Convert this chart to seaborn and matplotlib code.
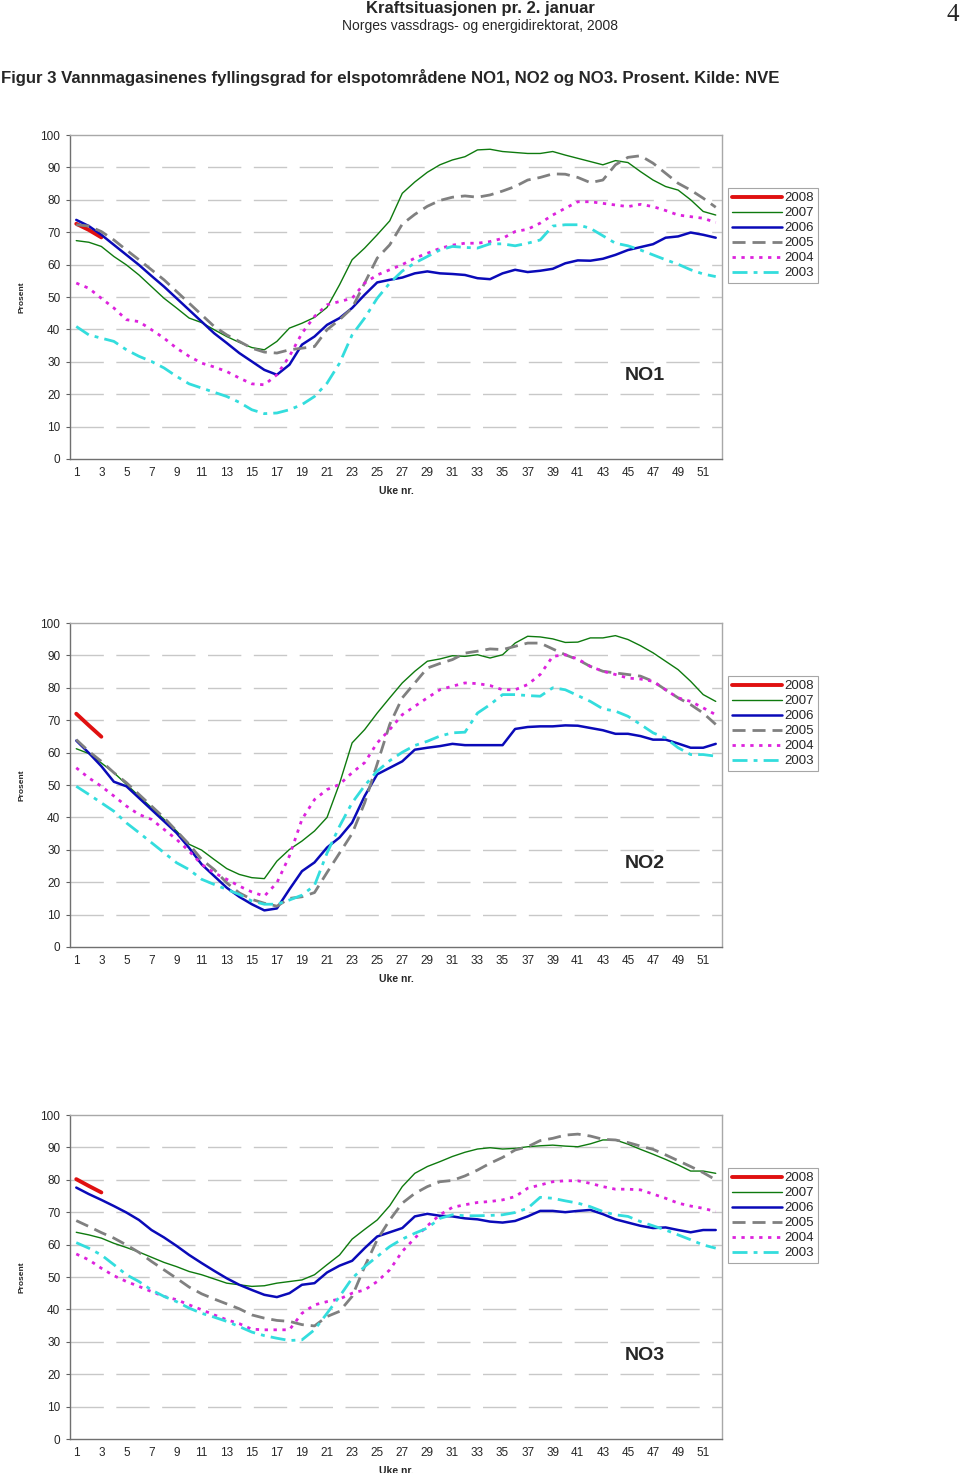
import numpy as np
import matplotlib
matplotlib.use("Agg")
import matplotlib.pyplot as plt
import seaborn as sns

sns.set_style("white")
plt.rcParams['font.family'] = ['Liberation Sans', 'DejaVu Sans']

weeks = np.arange(1, 53)
years = ['2008', '2007', '2006', '2005', '2004', '2003']

# NO1
no1_2008 = [72.6, 70.7, 68.4]
no1_2007 = [67.4, 66.9, 65.6, 62.5, 59.9, 56.8, 53.2, 49.6, 46.6, 43.5,
            42.1, 39.9, 37.8, 36.0, 34.4, 33.7, 36.3, 40.4, 41.9, 43.7,
            46.8, 53.8, 61.5, 65.1, 69.2, 73.5, 82.0, 85.5, 88.5, 90.8,
            92.3, 93.3, 95.4, 95.6, 94.9, 94.6, 94.3, 94.3, 94.9, 93.8,
            92.8, 91.8, 90.8, 92.1, 91.5, 88.7, 86.1, 84.1, 83.0, 80.0,
            76.4, 75.3]
no1_2006 = [73.8, 71.9, 69.2, 66.1, 63.0, 59.9, 56.5, 53.2, 49.6, 46.0,
            42.4, 38.8, 35.8, 32.7, 30.1, 27.5, 26.0, 29.1, 35.3, 37.8,
            41.4, 43.5, 46.6, 50.7, 54.5, 55.3, 56.0, 57.3, 57.9, 57.3,
            57.1, 56.8, 55.8, 55.5, 57.3, 58.4, 57.7, 58.1, 58.7, 60.4,
            61.3, 61.2, 61.8, 63.0, 64.5, 65.4, 66.3, 68.3, 68.7, 69.9,
            69.2, 68.3]
no1_2005 = [72.3, 71.9, 70.2, 67.6, 64.5, 61.5, 58.4, 55.3, 51.7, 48.1,
            44.5, 40.9, 38.3, 36.3, 34.2, 33.0, 32.7, 33.7, 34.2, 34.7,
            39.9, 43.0, 46.6, 54.3, 62.0, 66.1, 72.5, 75.5, 78.0, 79.8,
            80.8, 81.2, 80.8, 81.5, 82.7, 84.1, 86.1, 86.9, 88.0, 87.9,
            86.9, 85.3, 86.1, 90.8, 93.1, 93.6, 91.3, 88.2, 85.1, 83.0,
            80.5, 77.7]
no1_2004 = [54.3, 52.7, 49.6, 46.6, 43.0, 42.4, 39.9, 37.3, 34.2, 31.7,
            29.6, 28.4, 27.0, 25.0, 23.2, 22.9, 26.0, 31.7, 38.8, 44.0,
            47.6, 48.6, 49.6, 54.3, 56.8, 58.4, 60.0, 62.0, 63.5, 65.0,
            66.0, 66.6, 66.6, 67.1, 68.1, 70.2, 70.9, 72.8, 75.3, 77.4,
            79.4, 79.4, 78.9, 78.4, 77.9, 78.6, 77.9, 76.7, 75.3, 74.8,
            74.3, 73.0]
no1_2003 = [40.9, 38.3, 37.3, 36.3, 33.7, 31.7, 30.1, 28.1, 25.5, 23.2,
            21.9, 20.6, 19.3, 17.5, 15.2, 14.0, 14.2, 15.2, 16.8, 19.3,
            23.4, 29.6, 38.3, 43.5, 49.6, 54.3, 58.0, 60.5, 62.5, 64.5,
            65.6, 65.3, 65.1, 66.4, 66.4, 65.8, 66.6, 67.6, 71.9, 72.3,
            72.3, 71.2, 68.9, 66.6, 65.8, 64.5, 63.0, 61.5, 60.1, 58.4,
            57.1, 56.3]

# NO2
no2_2008 = [72.0, 68.4, 64.9]
no2_2007 = [61.2, 59.7, 56.8, 53.8, 50.2, 46.6, 43.0, 39.4, 35.8, 31.7,
            29.9, 27.0, 24.2, 22.4, 21.4, 21.1, 26.5, 30.1, 32.7, 35.8,
            40.0, 50.5, 63.0, 67.1, 72.2, 76.9, 81.5, 85.1, 88.2, 88.9,
            89.9, 89.7, 90.2, 89.2, 90.2, 93.8, 95.9, 95.7, 95.1, 94.0,
            94.1, 95.4, 95.4, 96.1, 94.9, 93.0, 90.8, 88.2, 85.6, 82.0,
            77.9, 75.8]
no2_2006 = [63.7, 59.9, 55.8, 51.0, 49.6, 46.0, 42.4, 38.8, 35.2, 30.6,
            25.5, 21.9, 18.3, 15.5, 13.2, 11.3, 11.9, 17.8, 23.4, 26.1,
            30.7, 33.8, 38.4, 46.6, 53.3, 55.3, 57.3, 60.9, 61.5, 62.0,
            62.7, 62.3, 62.3, 62.3, 62.3, 67.3, 67.9, 68.1, 68.1, 68.4,
            68.3, 67.6, 66.9, 65.8, 65.8, 65.1, 64.0, 64.0, 62.8, 61.5,
            61.5, 62.7]
no2_2005 = [64.0, 60.4, 57.3, 53.8, 50.7, 47.1, 43.5, 39.9, 35.8, 31.7,
            27.0, 23.9, 19.8, 16.7, 14.7, 13.5, 12.6, 15.0, 15.5, 16.8,
            23.0, 29.0, 35.0, 44.5, 56.5, 68.7, 76.9, 81.5, 86.1, 87.5,
            88.7, 90.7, 91.3, 92.0, 91.8, 92.8, 93.8, 93.8, 92.0, 90.2,
            88.7, 86.6, 85.1, 84.6, 84.1, 83.6, 82.0, 79.4, 76.9, 74.8,
            72.2, 68.7]
no2_2004 = [55.3, 52.2, 49.6, 46.6, 43.5, 40.9, 39.4, 36.3, 33.2, 29.6,
            25.5, 22.9, 20.9, 18.8, 17.0, 15.7, 19.8, 28.1, 39.4, 45.5,
            48.6, 50.2, 53.8, 56.9, 63.0, 67.1, 71.7, 74.3, 76.9, 79.4,
            80.5, 81.5, 81.3, 80.7, 79.4, 79.4, 81.0, 84.1, 89.7, 90.2,
            88.9, 86.6, 85.1, 84.1, 83.0, 82.7, 82.0, 79.4, 76.9, 75.8,
            73.8, 71.7]
no2_2003 = [49.6, 47.1, 44.5, 41.9, 38.3, 35.3, 32.2, 29.1, 26.0, 23.9,
            20.9, 19.3, 17.8, 16.2, 14.2, 13.2, 13.2, 14.5, 16.0, 19.0,
            29.0, 37.3, 44.5, 49.8, 54.3, 57.5, 60.1, 62.2, 63.5, 65.1,
            66.1, 66.3, 72.2, 74.8, 77.9, 77.9, 77.6, 77.4, 80.0, 79.4,
            77.6, 75.8, 73.5, 72.8, 71.2, 68.7, 66.1, 64.5, 61.5, 59.4,
            59.4, 58.9]

# NO3
no3_2008 = [80.2, 78.1, 76.1]
no3_2007 = [63.8, 63.0, 62.0, 60.4, 59.1, 57.7, 56.1, 54.5, 53.2, 51.7,
            50.7, 49.4, 48.1, 47.6, 47.1, 47.3, 48.1, 48.6, 49.1, 50.7,
            53.8, 56.8, 61.7, 64.7, 67.6, 72.0, 77.9, 82.0, 84.1, 85.6,
            87.2, 88.5, 89.5, 89.9, 89.5, 89.7, 90.2, 90.5, 90.7, 90.4,
            90.2, 91.1, 92.3, 92.3, 91.0, 89.4, 87.9, 86.3, 84.6, 82.7,
            82.7, 82.0]
no3_2006 = [77.6, 75.6, 73.8, 71.9, 69.9, 67.6, 64.5, 62.2, 59.6, 56.8,
            54.3, 51.9, 49.6, 47.6, 46.0, 44.5, 43.8, 45.0, 47.6, 48.1,
            51.4, 53.5, 55.0, 58.9, 62.5, 63.8, 65.1, 68.7, 69.5, 68.9,
            68.7, 68.1, 67.8, 67.1, 66.8, 67.3, 68.7, 70.4, 70.4, 70.0,
            70.4, 70.7, 69.4, 67.8, 66.8, 65.8, 65.1, 65.3, 64.5, 63.8,
            64.5, 64.5]
no3_2005 = [67.4, 65.6, 63.7, 62.0, 59.9, 57.6, 54.8, 52.2, 49.6, 46.9,
            44.8, 43.2, 41.7, 40.2, 38.3, 37.3, 36.6, 36.3, 35.3, 34.9,
            37.8, 39.4, 44.0, 53.2, 61.5, 67.6, 72.8, 75.8, 77.9, 79.4,
            79.8, 81.2, 83.0, 85.1, 86.9, 89.2, 90.2, 92.1, 92.8, 93.8,
            94.1, 93.5, 92.5, 92.3, 91.5, 90.4, 89.4, 87.7, 85.9, 84.1,
            82.2, 80.0]
no3_2004 = [57.1, 55.3, 52.7, 50.4, 48.6, 47.1, 45.5, 44.0, 43.0, 41.4,
            39.9, 38.3, 36.8, 35.6, 33.9, 33.7, 33.7, 33.7, 38.8, 41.4,
            42.4, 43.2, 45.0, 46.0, 48.6, 52.2, 57.9, 62.0, 65.8, 69.2,
            71.5, 72.3, 73.0, 73.3, 73.8, 74.8, 77.4, 78.4, 79.4, 79.7,
            79.7, 78.9, 77.9, 77.1, 77.1, 76.9, 75.6, 74.3, 72.8, 71.9,
            71.2, 70.2]
no3_2003 = [60.6, 58.9, 56.8, 53.8, 50.7, 48.6, 46.0, 44.0, 42.4, 40.4,
            38.8, 37.6, 36.3, 34.7, 33.0, 31.9, 31.1, 30.4, 30.6, 33.7,
            38.8, 44.0, 49.6, 53.2, 56.3, 59.4, 61.7, 63.5, 65.1, 68.1,
            69.2, 68.9, 68.9, 69.0, 69.2, 69.9, 71.2, 74.6, 74.3, 73.5,
            72.8, 71.7, 70.2, 69.2, 68.7, 67.1, 65.8, 64.5, 63.0, 61.5,
            59.9, 58.9]

panels = [
    ('NO1', 135, [no1_2008, no1_2007, no1_2006, no1_2005, no1_2004, no1_2003]),
    ('NO2', 623, [no2_2008, no2_2007, no2_2006, no2_2005, no2_2004, no2_2003]),
    ('NO3', 1115, [no3_2008, no3_2007, no3_2006, no3_2005, no3_2004, no3_2003]),
]

line_kw = {
    '2008': dict(color='#e01010', lw=2.8, linestyle='-'),
    '2007': dict(color='#0e7a0e', lw=1.0, linestyle='-'),
    '2006': dict(color='#0a0ab8', lw=1.8, linestyle='-'),
    '2005': dict(color='#808080', lw=2.0, linestyle=(0, (4.7, 2.5))),
    '2004': dict(color='#dd22dd', lw=2.0, linestyle=(0, (1.2, 2.0))),
    '2003': dict(color='#33dddd', lw=2.0, linestyle=(0, (5.4, 2.2, 1.4, 2.2))),
}

W, H = 960, 1473
fig = plt.figure(figsize=(W / 100, H / 100), dpi=100)

fig.text(480 / W, 1 - 9 / H, 'Kraftsituasjonen pr. 2. januar', ha='center',
         va='center', fontsize=12, fontweight='bold')
fig.text(480 / W, 1 - 26 / H, 'Norges vassdrags- og energidirektorat, 2008',
         ha='center', va='center', fontsize=10)
fig.text(953 / W, 1 - 15 / H, '4', ha='center', va='center', fontsize=18,
         family='Liberation Serif')
fig.text(1 / W, 1 - 77 / H,
         'Figur 3 Vannmagasinenes fyllingsgrad for elspotområdene NO1, NO2 og NO3. Prosent. Kilde: NVE',
         ha='left', va='center', fontsize=12.1, fontweight='bold')

for name, top, series in panels:
    ax = fig.add_axes([70 / W, 1 - (top + 324) / H, 652 / W, 324 / H])
    for yr, vals in zip(years, series):
        sns.lineplot(x=weeks[:len(vals)], y=vals, ax=ax, label=yr, **line_kw[yr])

    ax.set_xlim(0.5, 52.5)
    ax.set_ylim(0, 100)
    ax.set_yticks(range(0, 101, 10))
    ax.set_xticks(range(1, 53, 2))
    ax.set_xticks(np.arange(0.5, 53, 1), minor=True)
    ax.tick_params(axis='x', which='major', length=0, labelsize=8.5, pad=6)
    ax.tick_params(axis='x', which='minor', length=3, color='#606060', direction='out')
    ax.tick_params(axis='y', length=3, color='#606060', labelsize=8.5, pad=4, left=True)
    for yv in range(10, 100, 10):
        ax.axhline(yv, color='#c8c8c8', lw=1.0, linestyle=(0, (24, 9)), zorder=0)
    for side in ['left', 'bottom']:
        ax.spines[side].set_color('#707070')
        ax.spines[side].set_linewidth(1.0)
    for side in ['top', 'right']:
        ax.spines[side].set_color('#a8a8a8')
        ax.spines[side].set_linewidth(1.0)

    ax.set_ylabel('Prosent', fontsize=6, fontweight='bold')
    ax.yaxis.set_label_coords(-0.069, 0.5)
    ax.set_xlabel('Uke nr.', fontsize=7.5, fontweight='bold')
    ax.xaxis.set_label_coords(0.5, -0.082)
    ax.text(0.882, 0.259, name, transform=ax.transAxes, fontsize=14,
            fontweight='bold', ha='center', va='center')

    handles, labels = ax.get_legend_handles_labels()
    leg = ax.legend(handles, labels, loc='upper left', bbox_to_anchor=(1.009, 0.836),
                    borderaxespad=0, fontsize=9.5, handlelength=3.8,
                    handletextpad=0.2, labelspacing=0.21, borderpad=0.3,
                    frameon=True, fancybox=False, edgecolor='#909090')
    leg.get_frame().set_linewidth(0.8)

fig.savefig('out.png', dpi=100)
